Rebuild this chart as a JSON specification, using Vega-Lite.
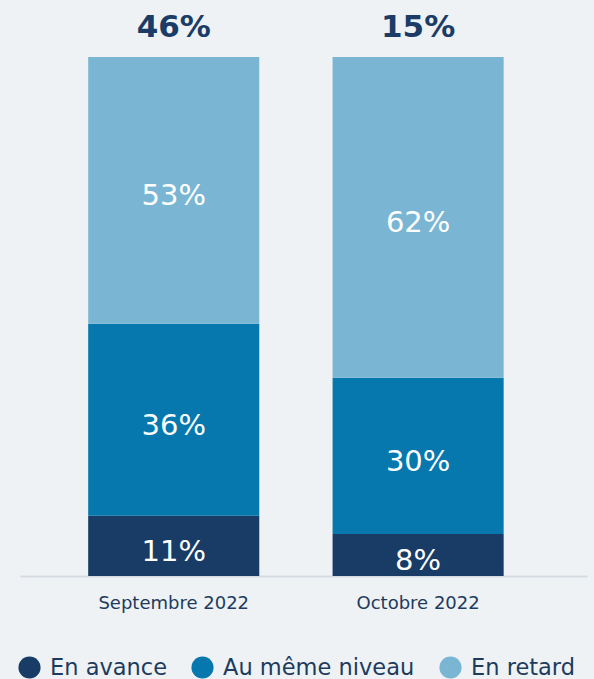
{
  "$schema": "https://vega.github.io/schema/vega-lite/v6.json",
  "width": 567,
  "height": 519,
  "autosize": {"type": "none"},
  "padding": {"left": 20, "top": 57, "right": 7, "bottom": 103},
  "background": "#eef2f4",
  "config": {
    "view": {"stroke": null},
    "font": "DejaVu Sans"
  },
  "datasets": {
    "parts": [
      {"mois": "Septembre 2022", "categorie": "En avance", "ordre": 1, "valeur": 11.6, "etiquette": "11%"},
      {"mois": "Septembre 2022", "categorie": "Au même niveau", "ordre": 2, "valeur": 37.0, "etiquette": "36%"},
      {"mois": "Septembre 2022", "categorie": "En retard", "ordre": 3, "valeur": 51.4, "etiquette": "53%"},
      {"mois": "Octobre 2022", "categorie": "En avance", "ordre": 1, "valeur": 8.1, "etiquette": "8%"},
      {"mois": "Octobre 2022", "categorie": "Au même niveau", "ordre": 2, "valeur": 30.1, "etiquette": "30%"},
      {"mois": "Octobre 2022", "categorie": "En retard", "ordre": 3, "valeur": 61.8, "etiquette": "62%"}
    ],
    "totaux": [
      {"mois": "Septembre 2022", "total": "46%"},
      {"mois": "Octobre 2022", "total": "15%"}
    ]
  },
  "encoding": {
    "x": {
      "field": "mois",
      "type": "nominal",
      "sort": ["Septembre 2022", "Octobre 2022"],
      "scale": {"paddingInner": 0.3, "paddingOuter": 0.31, "align": 0.45},
      "axis": {
        "title": null,
        "labelAngle": 0,
        "ticks": false,
        "domainColor": "#d6dbe2",
        "domainWidth": 2,
        "labelFontSize": 18,
        "labelColor": "#1d3b5e",
        "labelPadding": 18
      }
    }
  },
  "layer": [
    {
      "data": {"name": "parts"},
      "mark": {"type": "bar"},
      "encoding": {
        "y": {"field": "valeur", "type": "quantitative", "stack": "zero", "scale": {"domain": [0, 100]}, "axis": null},
        "order": {"field": "ordre", "type": "quantitative"},
        "color": {
          "field": "categorie",
          "type": "nominal",
          "scale": {
            "domain": ["En avance", "Au même niveau", "En retard"],
            "range": ["#183c66", "#0678ae", "#7ab6d3"]
          },
          "legend": {
            "title": null,
            "orient": "none",
            "direction": "horizontal",
            "legendX": -2,
            "legendY": 599,
            "symbolType": "circle",
            "symbolSize": 490,
            "symbolStrokeWidth": 0,
            "symbolOpacity": 1,
            "labelFontSize": 22.5,
            "labelColor": "#1d3b5e",
            "labelOffset": 9,
            "columnPadding": 24,
            "labelLimit": 400
          }
        }
      }
    },
    {
      "data": {"name": "parts"},
      "mark": {"type": "text", "color": "white", "fontSize": 29, "baseline": "middle", "dy": 6},
      "encoding": {
        "y": {"field": "valeur", "type": "quantitative", "stack": "zero", "bandPosition": 0.5},
        "order": {"field": "ordre", "type": "quantitative"},
        "detail": {"field": "categorie"},
        "text": {"field": "etiquette"}
      }
    },
    {
      "data": {"name": "totaux"},
      "mark": {"type": "text", "color": "#1b3c66", "fontSize": 31, "fontWeight": "bold", "baseline": "middle", "dy": -29},
      "encoding": {
        "y": {"datum": 100, "type": "quantitative"},
        "text": {"field": "total"}
      }
    }
  ]
}
